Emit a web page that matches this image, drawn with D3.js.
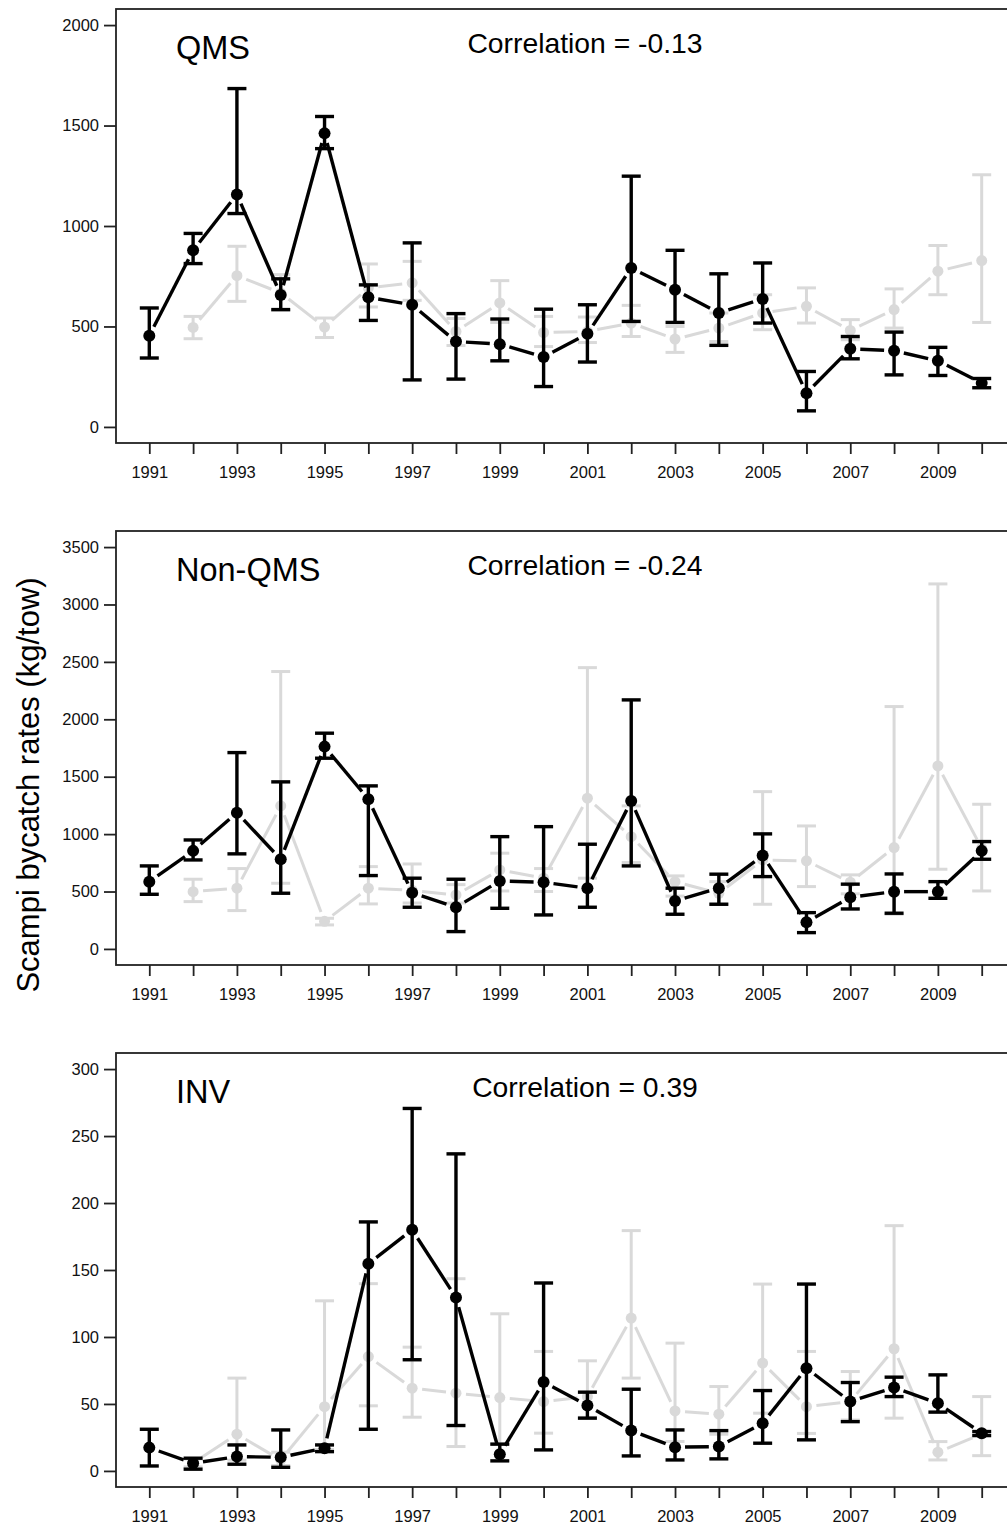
<!DOCTYPE html>
<html>
<head>
<meta charset="utf-8">
<script src="https://cdn.jsdelivr.net/npm/d3@7"></script>
<style>
  body { margin: 0; background: #fff; }
  svg { display: block; font-family: "Liberation Sans", Arial, sans-serif; }
</style>
</head>
<body>
<div id="chart"></div>
<script>
const years = [1991, 1992, 1993, 1994, 1995, 1996, 1997, 1998, 1999, 2000,
  2001, 2002, 2003, 2004, 2005, 2006, 2007, 2008, 2009, 2010];
const yearLabels = [1991, 1993, 1995, 1997, 1999, 2001, 2003, 2005, 2007, 2009];

// QMS
const qmsBlack   = [454, 879, 1157, 657, 1461, 645, 608, 425, 412, 348, 464, 791, 683, 567, 637, 168, 389, 379, 329, 218];
const qmsBlackLo = [343, 813, 1062, 584, 1385, 530, 234, 238, 329, 201, 323, 525, 520, 406, 517, 80, 339, 259, 256, 195];
const qmsBlackHi = [592, 963, 1684, 737, 1545, 707, 916, 564, 537, 586, 608, 1248, 879, 762, 816, 276, 450, 472, 396, 241];
const qmsGrey    = [null, 495, 753, 667, 497, 692, 717, 475, 617, 470, 475, 517, 437, 492, 567, 600, 480, 584, 775, 828];
const qmsGreyLo  = [null, 439, 625, 580, 445, 597, 630, 405, 520, 400, 420, 450, 371, 425, 484, 517, 434, 492, 658, 520];
const qmsGreyHi  = [null, 550, 899, 758, 542, 811, 824, 540, 728, 550, 547, 605, 500, 567, 658, 692, 534, 687, 903, 1255];
const qmsTicks = [0, 500, 1000, 1500, 2000];

// Non-QMS
const nqBlack   = [586, 854, 1187, 781, 1762, 1304, 490, 363, 592, 581, 529, 1289, 418, 529, 813, 232, 450, 499, 499, 854];
const nqBlackLo = [476, 775, 828, 485, 1661, 639, 363, 151, 354, 296, 363, 723, 302, 389, 630, 142, 348, 311, 441, 781];
const nqBlackHi = [723, 949, 1710, 1455, 1879, 1420, 616, 607, 978, 1065, 912, 2169, 529, 651, 1002, 316, 564, 653, 586, 935];
const nqGrey    = [null, 499, 529, 1246, 240, 529, 510, 470, 688, 616, 1313, 978, 586, 485, 775, 767, 581, 883, 1594, 877];
const nqGreyLo  = [null, 412, 334, 572, 209, 392, 400, 400, 505, 500, 616, 752, 460, 392, 389, 543, 480, 302, 694, 505];
const nqGreyHi  = [null, 607, 700, 2416, 267, 717, 740, 560, 834, 700, 2450, 1246, 636, 586, 1370, 1071, 645, 2111, 3179, 1260];
const nqTicks = [0, 500, 1000, 1500, 2000, 2500, 3000, 3500];

// INV
const invBlack   = [17.4, 5.7, 10.7, 10.2, 17, 154.7, 180, 129.5, 12.5, 66.3, 48.8, 30.1, 17.7, 18.2, 35.6, 76.7, 51.8, 62.3, 50.6, 28.2];
const invBlackLo = [3.7, 1.3, 5, 2.7, 14.4, 31.1, 83, 33.9, 7.5, 15.7, 39.4, 11.2, 8.2, 9, 20.7, 23.2, 36.8, 55.5, 43.9, 26.4];
const invBlackHi = [31.1, 9.5, 19.4, 30.6, 19.4, 185.9, 270.6, 236.7, 20, 140.3, 58.8, 61, 30.6, 30.1, 60, 139.5, 66, 70, 71.7, 29.4];
const invGrey    = [null, 6, 27.4, 8.2, 48, 85.4, 61.8, 58, 54.8, 51.8, 55.5, 114.1, 44.8, 42.4, 80.5, 48, 51.8, 91.2, 14, 27.5];
const invGreyLo  = [null, 3, 8, 4, 16, 48.6, 40.1, 18.2, 20, 28.2, 40, 69.3, 22, 27.4, 43.1, 28, 38, 39.4, 8.2, 11.4];
const invGreyHi  = [null, 9, 69.3, 14, 127, 139.8, 92.4, 143.5, 117.3, 89.2, 82.2, 179.4, 95.4, 63, 139.5, 89.2, 74.2, 183.1, 21.9, 55.5];
const invTicks = [0, 50, 100, 150, 200, 250, 300];

const panelNames = ['QMS', 'Non-QMS', 'INV'];
const correlations = ['Correlation = -0.13', 'Correlation = -0.24', 'Correlation = 0.39'];

const W = 1007, H = 1526;
const left = 116, right = 1015;
const panelTops = [9, 531, 1053];
const panelH = 434;
const grey = '#d9d9d9';

const svg = d3.select('#chart').append('svg')
  .attr('width', W)
  .attr('height', H);

const x = d3.scaleLinear()
  .domain([1991 - 0.76, 2010 + 0.76])
  .range([left, right]);

function series(vals, lo, hi) {
  return years.map((yr, i) => ({ yr, v: vals[i], lo: lo[i], hi: hi[i] }))
    .filter(d => d.v != null);
}

// lines with gaps round the points, like type = "b"
function drawSeries(g, data, y, color, lw, r) {
  const gap = 10;
  const pts = data.map(d => [x(d.yr), y(d.v)]);
  for (let i = 0; i < pts.length - 1; i++) {
    const [x1, y1] = pts[i], [x2, y2] = pts[i + 1];
    const dx = x2 - x1, dy = y2 - y1, len = Math.hypot(dx, dy);
    if (len <= 2 * gap) continue;
    const ux = dx / len, uy = dy / len;
    g.append('line')
      .attr('x1', x1 + ux * gap).attr('y1', y1 + uy * gap)
      .attr('x2', x2 - ux * gap).attr('y2', y2 - uy * gap)
      .attr('stroke', color).attr('stroke-width', lw);
  }

  const bars = g.selectAll(null).data(data).enter().append('g');
  bars.append('line')
    .attr('x1', d => x(d.yr)).attr('x2', d => x(d.yr))
    .attr('y1', d => y(d.lo)).attr('y2', d => y(d.hi))
    .attr('stroke', color).attr('stroke-width', lw);
  bars.append('line')
    .attr('x1', d => x(d.yr) - 9.5).attr('x2', d => x(d.yr) + 9.5)
    .attr('y1', d => y(d.lo)).attr('y2', d => y(d.lo))
    .attr('stroke', color).attr('stroke-width', lw);
  bars.append('line')
    .attr('x1', d => x(d.yr) - 9.5).attr('x2', d => x(d.yr) + 9.5)
    .attr('y1', d => y(d.hi)).attr('y2', d => y(d.hi))
    .attr('stroke', color).attr('stroke-width', lw);
  bars.append('circle')
    .attr('cx', d => x(d.yr)).attr('cy', d => y(d.v))
    .attr('r', r).attr('fill', color);
}

function drawPanel(idx, ticks, black, grey_) {
  const top = panelTops[idx];
  const bottom = top + panelH;
  const maxT = ticks[ticks.length - 1];
  const pad = maxT * 0.04;
  const y = d3.scaleLinear().domain([-pad, maxT + pad]).range([bottom, top]);

  const g = svg.append('g');

  g.append('g')
    .attr('transform', `translate(${left},0)`)
    .call(d3.axisLeft(y).tickValues(ticks).tickSize(12).tickPadding(5).tickFormat(d3.format('d')))
    .call(a => a.select('.domain').remove())
    .call(a => a.selectAll('line').attr('stroke', '#222').attr('stroke-width', 1.8))
    .call(a => a.selectAll('text').attr('font-size', 16.5).attr('fill', '#111')
      .attr('font-family', '"Liberation Sans", Arial, sans-serif'));

  g.append('g')
    .attr('transform', `translate(0,${bottom})`)
    .call(d3.axisBottom(x).tickValues(years).tickSize(11).tickPadding(12)
      .tickFormat(d => yearLabels.includes(d) ? String(d) : ''))
    .call(a => a.select('.domain').remove())
    .call(a => a.selectAll('line').attr('stroke', '#222').attr('stroke-width', 1.8))
    .call(a => a.selectAll('text').attr('font-size', 16.5).attr('fill', '#111')
      .attr('font-family', '"Liberation Sans", Arial, sans-serif'));

  drawSeries(g, grey_, y, grey, 3, 5.5);
  drawSeries(g, black, y, '#000', 3.4, 6);

  g.append('rect')
    .attr('x', left).attr('y', top)
    .attr('width', right - left).attr('height', panelH)
    .attr('fill', 'none').attr('stroke', '#222').attr('stroke-width', 1.8);

  g.append('text')
    .attr('x', 176).attr('y', top + 50)
    .attr('font-size', 32.5).attr('fill', '#000')
    .text(panelNames[idx]);

  g.append('text')
    .attr('x', 585).attr('y', top + 44)
    .attr('text-anchor', 'middle')
    .attr('font-size', 28.3).attr('fill', '#000')
    .text(correlations[idx]);
}

drawPanel(0, qmsTicks,
  series(qmsBlack, qmsBlackLo, qmsBlackHi),
  series(qmsGrey, qmsGreyLo, qmsGreyHi));
drawPanel(1, nqTicks,
  series(nqBlack, nqBlackLo, nqBlackHi),
  series(nqGrey, nqGreyLo, nqGreyHi));
drawPanel(2, invTicks,
  series(invBlack, invBlackLo, invBlackHi),
  series(invGrey, invGreyLo, invGreyHi));

svg.append('text')
  .attr('transform', 'translate(39,785) rotate(-90)')
  .attr('text-anchor', 'middle')
  .attr('font-size', 31).attr('fill', '#000')
  .text('Scampi bycatch rates (kg/tow)');
</script>
</body>
</html>
